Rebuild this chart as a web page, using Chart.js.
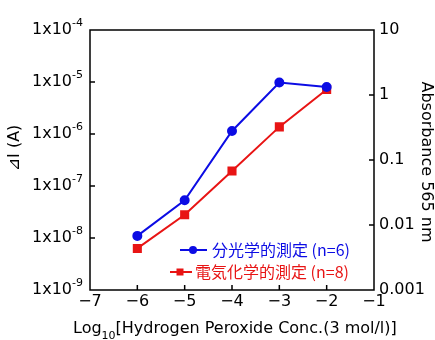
<!DOCTYPE html>
<html>
<head>
<meta charset="utf-8">
<script src="https://cdn.jsdelivr.net/npm/chart.js@4"></script>
<style>
  body { margin: 0; background: #fff; }
  #wrap { width: 435px; height: 340px; }
</style>
</head>
<body>
<div id="wrap"><canvas id="chart"></canvas></div>
<script>
// values
const concLog = [-6, -5, -4, -3, -2];
const absorbance = [0.0068, 0.024, 0.28, 1.56, 1.33];   // right axis
const deltaI = [6.3e-9, 2.8e-8, 1.95e-7, 1.37e-6, 7.2e-6]; // left axis
const xTicks = [-7, -6, -5, -4, -3, -2, -1];
const leftExp = [-4, -5, -6, -7, -8, -9];
const rightTicks = [10, 1, 0.1, 0.01, 0.001];
const seriesNames = ['分光学的測定 (n=6)', '電気化学的測定 (n=8)'];

const blue = '#0c0ce4';
const red = '#e81414';
const font = '"DejaVu Sans", Arial, sans-serif';
const jpFont = '"Noto Sans CJK JP", sans-serif';

const isDecade = v => Math.abs(Math.log10(v) - Math.round(Math.log10(v))) < 1e-6;

// frame, inward ticks, superscript labels, titles and legend
const decor = {
  id: 'decor',
  afterDatasetsDraw(chart) {
    const { ctx, chartArea: a, scales } = chart;
    const x = scales.x, yL = scales.yL, yR = scales.yR;
    ctx.save();
    ctx.strokeStyle = '#000';
    ctx.lineWidth = 1.5;
    ctx.strokeRect(a.left, a.top, a.right - a.left, a.bottom - a.top);
    ctx.beginPath();
    xTicks.slice(1, -1).forEach(v => {
      const px = x.getPixelForValue(v);
      ctx.moveTo(px, a.bottom); ctx.lineTo(px, a.bottom - 5);
    });
    leftExp.slice(1, -1).forEach(e => {
      const py = yL.getPixelForValue(Math.pow(10, e));
      ctx.moveTo(a.left, py); ctx.lineTo(a.left + 5, py);
    });
    rightTicks.slice(1, -1).forEach(v => {
      const py = yR.getPixelForValue(v);
      ctx.moveTo(a.right, py); ctx.lineTo(a.right - 5, py);
    });
    ctx.stroke();

    // left tick labels 1x10^n
    ctx.fillStyle = '#000';
    ctx.textBaseline = 'middle';
    leftExp.forEach(e => {
      const py = yL.getPixelForValue(Math.pow(10, e));
      const end = a.left - 7;
      ctx.font = '11px ' + font;
      const sup = String(e);
      const sw = ctx.measureText(sup).width;
      ctx.textAlign = 'left';
      ctx.fillText(sup, end - sw, py - 7);
      ctx.font = '16px ' + font;
      ctx.textAlign = 'right';
      ctx.fillText('1x10', end - sw, py);
    });

    // left title
    ctx.save();
    ctx.translate(15, 148);
    ctx.rotate(-Math.PI / 2);
    ctx.textAlign = 'center';
    ctx.font = '16px ' + font;
    ctx.fillText('⊿I (A)', 0, 0);
    ctx.restore();

    // right title
    ctx.save();
    ctx.translate(426, 162);
    ctx.rotate(Math.PI / 2);
    ctx.textAlign = 'center';
    ctx.font = '16px ' + font;
    ctx.fillText('Absorbance 565 nm', 0, 0);
    ctx.restore();

    // x title with subscript
    ctx.textAlign = 'left';
    ctx.textBaseline = 'alphabetic';
    let tx = 73;
    ctx.font = '16px ' + font;
    ctx.fillText('Log', tx, 333);
    tx += ctx.measureText('Log').width;
    ctx.font = '11px ' + font;
    ctx.fillText('10', tx, 339);
    tx += ctx.measureText('10').width;
    ctx.font = '16px ' + font;
    ctx.fillText('[Hydrogen Peroxide Conc.(3 mol/l)]', tx, 333);

    // legend
    const items = [
      { name: seriesNames[0], color: blue, x0: 180, x1: 207, mx: 193, y: 250, tx: 212, shape: 'circle' },
      { name: seriesNames[1], color: red, x0: 170, x1: 192, mx: 180, y: 272, tx: 195, shape: 'rect' }
    ];
    items.forEach(it => {
      ctx.strokeStyle = it.color;
      ctx.fillStyle = it.color;
      ctx.lineWidth = 2;
      ctx.beginPath();
      ctx.moveTo(it.x0, it.y); ctx.lineTo(it.x1, it.y);
      ctx.stroke();
      if (it.shape === 'circle') {
        ctx.beginPath(); ctx.arc(it.mx, it.y, 4, 0, Math.PI * 2); ctx.fill();
      } else {
        ctx.fillRect(it.mx - 3.5, it.y - 3.5, 7, 7);
      }
      ctx.font = '16px ' + jpFont;
      ctx.textBaseline = 'middle';
      ctx.fillText(it.name, it.tx, it.y);
    });
    ctx.restore();
  }
};

new Chart(document.getElementById('chart'), {
  type: 'line',
  data: {
    datasets: [
      {
        label: seriesNames[0],
        data: concLog.map((c, i) => ({ x: c, y: absorbance[i] })),
        yAxisID: 'yR',
        borderColor: blue, backgroundColor: blue,
        borderWidth: 2, pointStyle: 'circle', pointRadius: 4
      },
      {
        label: seriesNames[1],
        data: concLog.map((c, i) => ({ x: c, y: deltaI[i] })),
        yAxisID: 'yL',
        borderColor: red, backgroundColor: red,
        borderWidth: 2, pointStyle: 'rect', pointRadius: 5
      }
    ]
  },
  options: {
    responsive: true,
    maintainAspectRatio: false,
    animation: false,
    layout: { padding: { top: 30, left: 0, right: 0, bottom: 0 } },
    plugins: { legend: { display: false }, tooltip: { enabled: false } },
    scales: {
      x: {
        type: 'linear', min: -7, max: -1,
        grid: { display: false, drawTicks: false },
        border: { display: false },
        ticks: {
          stepSize: 1, autoSkip: false, padding: 2, color: '#000',
          font: { family: font, size: 16 },
          callback: v => '\u2212' + Math.abs(v)
        },
        afterFit: s => { s.height = 50; }
      },
      yL: {
        type: 'logarithmic', position: 'left', min: 1e-9, max: 1e-4,
        grid: { display: false, drawTicks: false },
        border: { display: false },
        ticks: { display: false },
        afterFit: s => { s.width = 90; }
      },
      yR: {
        type: 'logarithmic', position: 'right', min: 0.001, max: 10,
        grid: { display: false, drawTicks: false },
        border: { display: false },
        ticks: {
          autoSkip: false, padding: 5, color: '#000',
          font: { family: font, size: 16 },
          callback: v => {
            if (!isDecade(v)) return '';
            const hit = rightTicks.find(t => Math.abs(Math.log10(t) - Math.log10(v)) < 1e-6);
            return String(hit);
          }
        },
        afterFit: s => { s.width = 61; }
      }
    }
  },
  plugins: [decor]
});
</script>
</body>
</html>
